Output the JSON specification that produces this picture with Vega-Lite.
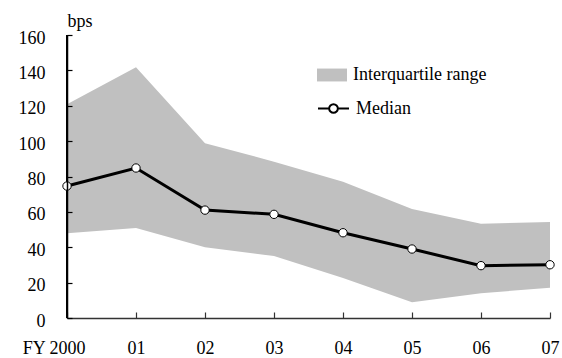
{
  "$schema": "https://vega.github.io/schema/vega-lite/v6.json",
  "width": 483,
  "height": 283,
  "autosize": {"type": "none"},
  "padding": {"left": 67, "top": 35, "right": 12, "bottom": 40},
  "background": "white",
  "config": {
    "view": {"stroke": null},
    "font": "Liberation Serif, serif",
    "axis": {
      "labelFont": "Liberation Serif, serif",
      "labelFontSize": 18,
      "labelColor": "black",
      "labelOverlap": false,
      "titleFont": "Liberation Serif, serif",
      "titleFontSize": 18,
      "titleFontWeight": "normal",
      "titleColor": "black",
      "grid": false,
      "domain": true,
      "ticks": true,
      "domainColor": "black",
      "domainWidth": 1.5,
      "tickColor": "black",
      "tickWidth": 1.2,
      "zindex": 1
    },
    "axisY": {"labelOverlap": false},
    "legend": {
      "labelFont": "Liberation Serif, serif",
      "labelFontSize": 18,
      "labelColor": "black"
    }
  },
  "data": {
    "values": [
      {"yr": "FY 2000", "lo": 47.9, "hi": 120.8, "med": 74.6},
      {"yr": "01", "lo": 50.9, "hi": 141.7, "med": 84.8},
      {"yr": "02", "lo": 40.0, "hi": 98.8, "med": 61.0},
      {"yr": "03", "lo": 35.0, "hi": 88.4, "med": 58.6},
      {"yr": "04", "lo": 22.6, "hi": 77.0, "med": 48.2},
      {"yr": "05", "lo": 8.9, "hi": 61.6, "med": 39.0},
      {"yr": "06", "lo": 14.0, "hi": 53.3, "med": 29.6},
      {"yr": "07", "lo": 17.1, "hi": 54.3, "med": 30.1}
    ]
  },
  "encoding": {
    "x": {
      "field": "yr",
      "type": "ordinal",
      "sort": null,
      "scale": {"type": "point", "padding": 0},
      "axis": {
        "title": null,
        "labelAngle": 0,
        "labelOverlap": false,
        "zindex": 1,
        "tickSize": -6,
        "labelPadding": 27,
        "domainColor": "#333",
        "tickColor": "#333",
        "labelAlign": {"expr": "datum.value == 'FY 2000' ? 'right' : 'center'"},
        "labelOffset": {"expr": "datum.value == 'FY 2000' ? 18 : 0"}
      }
    },
    "y": {
      "field": "med",
      "type": "quantitative",
      "scale": {"domain": [0, 160], "nice": false},
      "axis": {
        "values": [0, 20, 40, 60, 80, 100, 120, 140, 160],
        "labelOverlap": false,
        "zindex": 1,
        "domain": true,
        "title": "bps",
        "titleAngle": 0,
        "titleAlign": "left",
        "titleBaseline": "alphabetic",
        "titleX": 0,
        "titleY": -9,
        "tickSize": -5,
        "labelPadding": 27,
        "labelOffset": 3
      }
    }
  },
  "layer": [
    {
      "mark": {"type": "area", "opacity": 1},
      "encoding": {
        "y": {
          "field": "hi",
          "type": "quantitative",
          "scale": {"domain": [0, 160], "nice": false},
          "axis": {
            "values": [0, 20, 40, 60, 80, 100, 120, 140, 160],
            "labelOverlap": false,
            "zindex": 1,
            "domain": true,
            "title": "bps",
            "titleAngle": 0,
            "titleAlign": "left",
            "titleBaseline": "alphabetic",
            "titleX": 0,
            "titleY": -9,
            "tickSize": -5,
            "labelPadding": 27,
            "labelOffset": 3
          }
        },
        "y2": {"field": "lo"},
        "fill": {
          "datum": "Interquartile range",
          "type": "nominal",
          "scale": {"range": ["#c0c0c0"]},
          "legend": {
            "title": null,
            "orient": "none",
            "legendX": 250,
            "legendY": 25,
            "symbolType": "M-1,-0.43H1V0.43H-1Z",
            "symbolSize": 900,
            "symbolStrokeWidth": 0,
            "symbolOpacity": 1,
            "labelOffset": 6
          }
        }
      }
    },
    {
      "mark": {"type": "line", "strokeWidth": 3},
      "encoding": {
        "stroke": {
          "datum": "Median",
          "type": "nominal",
          "scale": {"range": ["black"]},
          "legend": {
            "title": null,
            "orient": "none",
            "legendX": 250,
            "legendY": 57,
            "symbolType": "M-1,0H-0.28M0.28,0H1M-0.28,0A0.28,0.28,0,1,0,0.28,0A0.28,0.28,0,1,0,-0.28,0Z",
            "symbolSize": 961,
            "symbolStrokeWidth": 2,
            "symbolFillColor": "white",
            "symbolStrokeColor": "black",
            "labelOffset": 6
          }
        }
      }
    },
    {
      "mark": {"type": "rule", "color": "black", "strokeWidth": 1.3},
      "encoding": {
        "x": {"datum": "FY 2000", "type": "ordinal"},
        "y": {"datum": 0, "type": "quantitative"},
        "y2": {"datum": 160}
      }
    },
    {
      "mark": {"type": "point", "filled": true, "fill": "white", "stroke": "black", "strokeWidth": 1, "size": 70, "opacity": 1},
      "encoding": {}
    }
  ]
}
